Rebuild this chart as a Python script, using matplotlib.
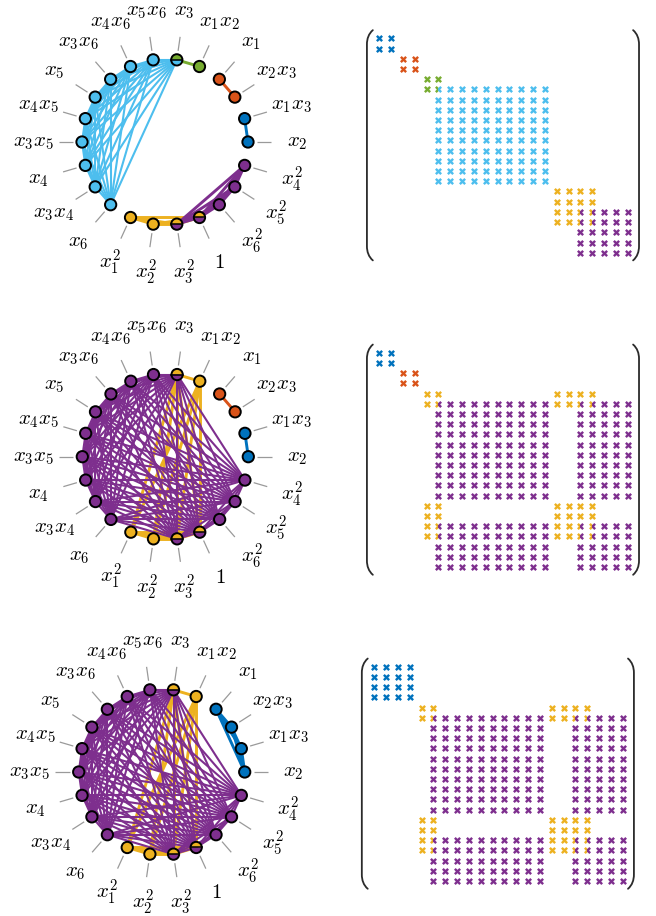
import matplotlib
matplotlib.use("Agg")

import matplotlib.pyplot as plt
import numpy as np
from matplotlib.collections import LineCollection
from matplotlib.patches import Circle, Wedge, PathPatch
from matplotlib.path import Path

plt.rcParams["mathtext.fontset"] = "cm"

# node labels, counter-clockwise from the right-hand side of the circle
node_labels = [
    r"$x_2$", r"$x_1x_3$", r"$x_2x_3$", r"$x_1$", r"$x_1x_2$", r"$x_3$",
    r"$x_5x_6$", r"$x_4x_6$", r"$x_3x_6$", r"$x_5$", r"$x_4x_5$", r"$x_3x_5$",
    r"$x_4$", r"$x_3x_4$", r"$x_6$", r"$x_1^2$", r"$x_2^2$", r"$x_3^2$",
    r"$1$", r"$x_6^2$", r"$x_5^2$", r"$x_4^2$",
]

# cliques (node indices) and their colours, one set per row
cliques_top = [
    [0, 1], [2, 3], [4, 5],
    [5, 6, 7, 8, 9, 10, 11, 12, 13, 14],
    [15, 16, 17, 18],
    [17, 18, 19, 20, 21],
]
colors_top = ["blue", "orange", "green", "lightblue", "yellow", "purple"]

cliques_mid = [
    [0, 1], [2, 3],
    [4, 5, 15, 16, 17, 18],
    [5, 6, 7, 8, 9, 10, 11, 12, 13, 14, 17, 18, 19, 20, 21],
]
colors_mid = ["blue", "orange", "yellow", "purple"]

cliques_bot = [
    [0, 1, 2, 3],
    [4, 5, 15, 16, 17, 18],
    [5, 6, 7, 8, 9, 10, 11, 12, 13, 14, 17, 18, 19, 20, 21],
]
colors_bot = ["blue", "yellow", "purple"]

palette = {
    "blue": "#0072BD", "orange": "#D95319", "yellow": "#EDB120",
    "purple": "#7E2F8E", "green": "#77AC30", "lightblue": "#4DBEEE",
}

W, H = 656, 916
N = len(node_labels)

M, L = Path.MOVETO, Path.LINETO
X_FULL = Path([(-1, -1), (1, 1), (-1, 1), (1, -1)], [M, L, M, L])
X_LEFT = Path([(-1, -1), (0, 0), (-1, 1), (0, 0)], [M, L, M, L])
X_RIGHT = Path([(1, 1), (0, 0), (1, -1), (0, 0)], [M, L, M, L])
MS, MEW = 3.8, 1.7


def px_axes(fig, left, top, width, height):
    return fig.add_axes([left / W, 1 - (top + height) / H, width / W, height / H])


def draw_graph(ax, cliques, colors):
    ang = 2 * np.pi * np.arange(N) / N
    pos = np.column_stack([np.cos(ang), np.sin(ang)])

    ticks = [[1.11 * p, 1.28 * p] for p in pos]
    ax.add_collection(LineCollection(ticks, colors="#9a9a9a", linewidths=0.9, zorder=0))

    for grp, cname in zip(cliques, colors):
        segs = [[pos[a], pos[b]] for i, a in enumerate(grp) for b in grp[i + 1:]]
        lw = 2.1 if len(grp) <= 6 else 1.5
        ax.add_collection(LineCollection(segs, colors=palette[cname], linewidths=lw, zorder=1))

    r = 0.068
    for k in range(N):
        owners = [palette[c] for g, c in zip(cliques, colors) if k in g]
        x, y = pos[k]
        if len(owners) == 1:
            ax.add_patch(Circle((x, y), r, fc=owners[0], ec="black", lw=1.4, zorder=3))
        else:
            ax.add_patch(Wedge((x, y), r, 0, 180, fc=owners[0], ec="none", zorder=3))
            ax.add_patch(Wedge((x, y), r, 180, 360, fc=owners[1], ec="none", zorder=3))
            ax.plot([x - r, x + r], [y, y], color="black", lw=1.1, zorder=4)
            ax.add_patch(Circle((x, y), r, fc="none", ec="black", lw=1.4, zorder=4))

    for k, lab in enumerate(node_labels):
        ax.text(1.59 * pos[k, 0], 1.59 * pos[k, 1], lab, fontsize=15,
                ha="center", va="center", clip_on=False)

    ax.set_xlim(-1.75, 1.75)
    ax.set_ylim(-1.75, 1.75)
    ax.axis("off")


def bracket(ax, x, y0, y1, side):
    w, h = 0.5 * side, 1.4
    verts = [(x + w, y0), (x + 0.3 * w, y0 + 0.25 * h), (x, y0 + 0.6 * h), (x, y0 + h),
             (x, y1 - h), (x, y1 - 0.6 * h), (x + 0.3 * w, y1 - 0.25 * h), (x + w, y1)]
    codes = [M, Path.CURVE4, Path.CURVE4, Path.CURVE4, L, Path.CURVE4, Path.CURVE4, Path.CURVE4]
    ax.add_patch(PathPatch(Path(verts, codes), fc="none", ec="#2b2b2b", lw=1.3,
                           capstyle="round", clip_on=False))


def draw_pattern(ax, cliques, colors):
    owners = {}
    for grp, cname in zip(cliques, colors):
        for i in grp:
            for j in grp:
                owners.setdefault((i, j), []).append(palette[cname])

    for (i, j), cols in owners.items():
        if len(cols) == 1:
            ax.plot(j, i, ls="none", marker=X_FULL, ms=MS, mew=MEW, color=cols[0])
        else:
            ax.plot(j, i, ls="none", marker=X_LEFT, ms=MS, mew=MEW, color=cols[0])
            ax.plot(j, i, ls="none", marker=X_RIGHT, ms=MS, mew=MEW, color=cols[1])

    bracket(ax, -1.05, -0.8, 21.75, 1)
    bracket(ax, 21.95, -0.8, 21.75, -1)
    ax.set_xlim(-1.5, 22.5)
    ax.set_ylim(22.5, -1.5)
    ax.axis("off")


fig = plt.figure(figsize=(W / 100, H / 100), dpi=100)

rows = [
    (cliques_top, colors_top, (165.0, 142.0), (361.6, 23.0)),
    (cliques_mid, colors_mid, (165.3, 456.7), (361.6, 337.4)),
    (cliques_bot, colors_bot, (161.7, 772.0), (356.5, 651.4)),
]
half = 1.75 * 83
for cliques, colors, (cx, cy), (ml, mt) in rows:
    ax_g = px_axes(fig, cx - half, cy - half, 2 * half, 2 * half)
    draw_graph(ax_g, cliques, colors)
    ax_m = px_axes(fig, ml, mt, 24 * 11.83, 24 * 10.21)
    draw_pattern(ax_m, cliques, colors)

fig.savefig("out.png", dpi=100)
